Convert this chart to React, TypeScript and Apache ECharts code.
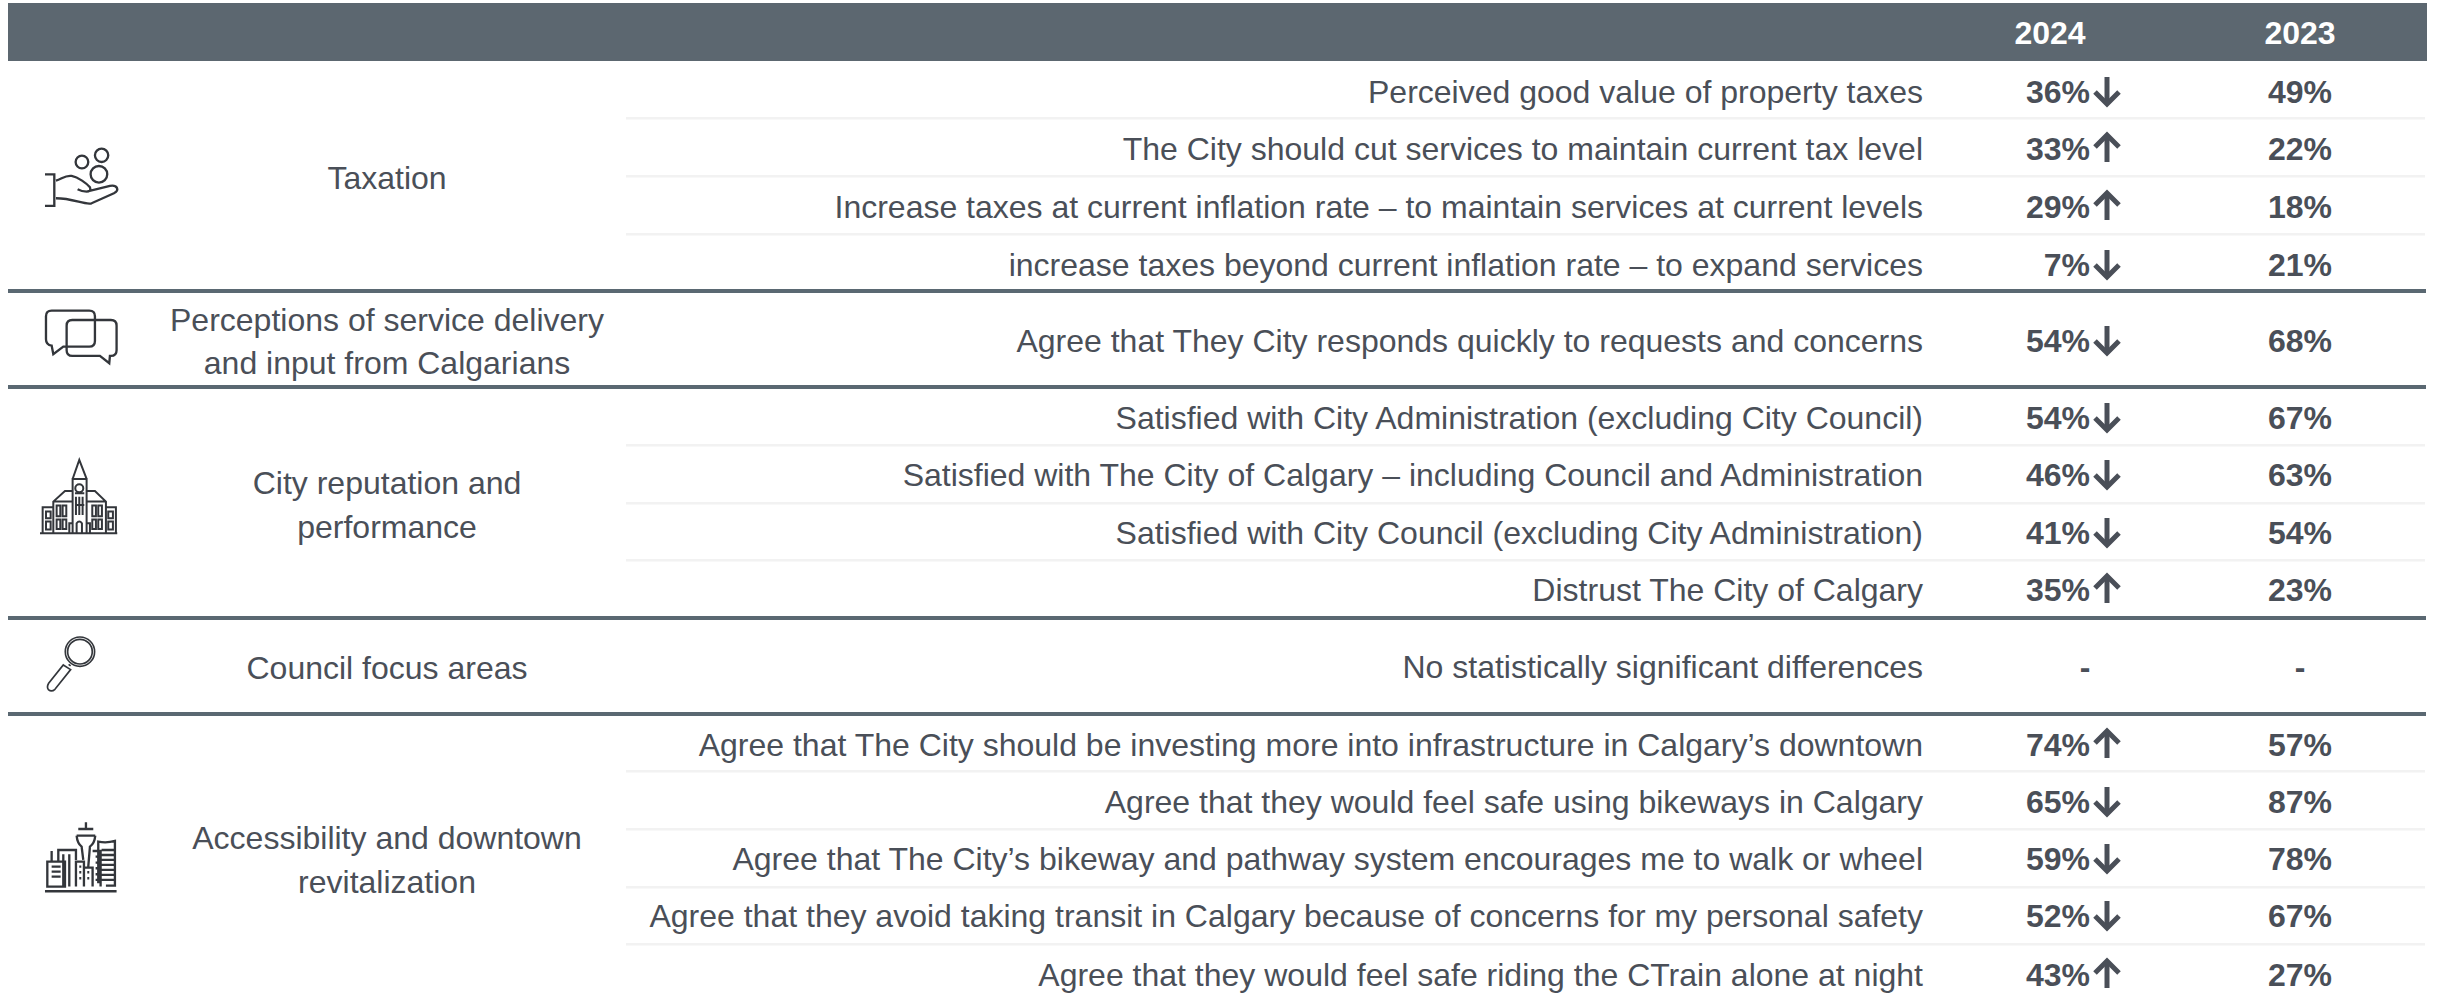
import React, { useEffect, useRef } from "react";
import * as echarts from "echarts";

const headers = ["2024", "2023"];
const groups = [
  ["Taxation"],
  ["Perceptions of service delivery", "and input from Calgarians"],
  ["City reputation and", "performance"],
  ["Council focus areas"],
  ["Accessibility and downtown", "revitalization"],
];
const rowLabels = [
  "Perceived good value of property taxes",
  "The City should cut services to maintain current tax level",
  "Increase taxes at current inflation rate – to maintain services at current levels",
  "increase taxes beyond current inflation rate – to expand services",
  "Agree that They City responds quickly to requests and concerns",
  "Satisfied with City Administration (excluding City Council)",
  "Satisfied with The City of Calgary – including Council and Administration",
  "Satisfied with City Council (excluding City Administration)",
  "Distrust The City of Calgary",
  "No statistically significant differences",
  "Agree that The City should be investing more into infrastructure in Calgary’s downtown",
  "Agree that they would feel safe using bikeways in Calgary",
  "Agree that The City’s bikeway and pathway system encourages me to walk or wheel",
  "Agree that they avoid taking transit in Calgary because of concerns for my personal safety",
  "Agree that they would feel safe riding the CTrain alone at night",
];
const values2024 = ["36%", "33%", "29%", "7%", "54%", "54%", "46%", "41%", "35%", "-", "74%", "65%", "59%", "52%", "43%"];
const values2023 = ["49%", "22%", "18%", "21%", "68%", "67%", "63%", "54%", "23%", "-", "57%", "87%", "78%", "67%", "27%"];
const changes = ["down", "up", "up", "down", "down", "down", "down", "down", "up", "", "up", "down", "down", "down", "up"];

// layout (page pixels)
const rowY = [92, 149, 207, 265, 341, 418, 475, 533, 590, 667, 745, 802, 859, 916, 975];
const thickRules = [291, 387, 618, 714];
const lightRules = [118, 176, 234, 445, 503, 560, 771, 829, 887, 944];
const groupLines = [[178], [320, 363], [483, 527], [668], [838, 882]];
const TEXT = "#4a4f58";
const FONT = '"Liberation Sans", Arial, sans-serif';

const c = (x: number, y: number, r: number) => `M${x - r} ${y}a${r} ${r} 0 1 0 ${2 * r} 0a${r} ${r} 0 1 0 ${-2 * r} 0Z`;
const b = (x: number, y: number, w: number, h: number) => `M${x} ${y}h${w}v${h}h${-w}Z`;

const iconHand =
  c(156, 66, 19) + c(215, 46, 20) + c(207, 103, 25) +
  "M45 103H73V198H45M78 122C95 118 105 105 125 108C145 112 170 130 180 142C184 152 178 155 170 155C160 155 150 152 143 148" +
  "M170 155L240 138C262 134 270 150 252 160L185 190C165 196 130 175 78 175";
const iconChat =
  "M65 32H178Q195 32 195 49V123Q195 140 178 140H100L70 163L65 137Q48 135 48 118V49Q48 32 65 32Z" +
  "M127 60H243Q260 60 260 77V151Q260 168 243 168H240L238 190L210 168H127Q110 168 110 151V77Q110 60 127 60Z";
const iconBuilding =
  "M38 157H70V235H38ZM228 157H258V235H228Z" +
  "M70 235V140L105 108H128M170 108H195L228 140V235M70 140H128M170 140H228" +
  "M128 235V72H170V235M128 72L148 15L170 72M135 115H163" +
  c(148, 100, 12) + b(48, 170, 14, 20) + b(48, 200, 14, 24) + b(235, 170, 14, 20) + b(235, 200, 14, 24) +
  b(80, 152, 11, 32) + b(98, 152, 11, 32) + b(80, 194, 11, 28) + b(98, 194, 11, 28) +
  b(187, 152, 11, 32) + b(205, 152, 11, 32) + b(187, 194, 11, 28) + b(205, 194, 11, 28) +
  "M138 125V180M148 125V180M158 125V180M135 150H163M140 235V205Q148 195 156 205V235" +
  "M118 235V205H128M170 205H180V235M30 235H262";
const iconGlass =
  c(150, 65, 44) + c(150, 65, 37) +
  "M100 105L122 119L75 178Q65 187 56 180Q49 172 56 160ZM116 103L122 108";
const iconCity =
  "M145 42H190M168 22V42M140 62H196M140 62Q142 85 155 95L160 135M196 62Q194 85 180 95L175 155" +
  "M205 205V80Q230 85 255 78V212H228M215 105H255M215 120H255M215 135H255M215 150H255M215 165H255M215 180H255M215 195H255" +
  "M65 140V108M85 140V105H138V135M100 118V215M118 118V215M138 215V140H162V215M162 158H188V215M188 108H212V215" +
  "M52 140H105V215H52ZM65 155H92M65 170H92M65 185H92M45 229H260" +
  "M148 155h6M148 172h6M148 190h6M172 172h6M172 190h6M197 125h6M197 143h6M197 160h6M197 178h6M197 195h6";

const icons = [
  { name: "iconHand", d: iconHand, x: 30, y: 140, w: 7 },
  { name: "iconChat", d: iconChat, x: 30, y: 300, w: 7 },
  { name: "iconBuilding", d: iconBuilding, x: 30, y: 455, w: 6 },
  { name: "iconGlass", d: iconGlass, x: 30, y: 630, w: 5 },
  { name: "iconCity", d: iconCity, x: 30, y: 815, w: 7 },
];
icons.forEach((ic) => echarts.graphic.registerShape(ic.name, echarts.graphic.extendPath(ic.d, {}) as any));

const font = (size: number, weight = "normal") => ({ fontSize: size, fontWeight: weight, fontFamily: FONT });

export default function App() {
  const ref = useRef<HTMLDivElement>(null);
  useEffect(() => {
    document.body.style.margin = "0";
    const chart = echarts.init(ref.current!, undefined, { renderer: "svg" });
    const renderRow = (_: any, api: any) => {
      const i = api.value(0);
      const y = api.value(1);
      const p = (x: number, yy: number) => api.coord([x, yy]);
      const [lx, ly] = p(1923, y);
      const [vx, vy] = p(2090, y);
      const [ox, oy] = p(2300, y);
      const [ax, ay] = p(2107, y - 1);
      const children: any[] = [
        { type: "text", style: { text: rowLabels[i], x: lx, y: ly, align: "right", verticalAlign: "middle", fill: TEXT, ...font(32) } },
      ];
      if (values2024[i] === "-") {
        children.push({ type: "text", style: { text: "-", x: 2085, y: vy, align: "center", verticalAlign: "middle", fill: TEXT, ...font(32, "bold") } });
      } else {
        children.push({ type: "text", style: { text: values2024[i], x: vx, y: vy, align: "right", verticalAlign: "middle", fill: TEXT, ...font(32, "bold") } });
      }
      children.push({ type: "text", style: { text: values2023[i], x: ox, y: oy, align: "center", verticalAlign: "middle", fill: TEXT, ...font(32, "bold") } });
      if (changes[i]) {
        const s = changes[i] === "up" ? -1 : 1;
        const arrow = { stroke: TEXT, lineWidth: 5, fill: "none" };
        children.push({ type: "line", shape: { x1: ax, y1: ay - 14 * s, x2: ax, y2: ay + 12 * s }, style: arrow });
        children.push({
          type: "polyline",
          shape: { points: [[ax - 12, ay + 1 * s], [ax, ay + 13 * s], [ax + 12, ay + 1 * s]] },
          style: arrow,
        });
      }
      return { type: "group", children };
    };
    const graphic: any[] = [
      { type: "rect", shape: { x: 8, y: 3, width: 2419, height: 58 }, style: { fill: "#5c6770" }, z: 1 },
      ...headers.map((h, i) => ({
        type: "text", x: i === 0 ? 2050 : 2300, y: 33, z: 2,
        style: { text: h, align: "center", verticalAlign: "middle", fill: "#ffffff", ...font(32, "bold") },
      })),
      ...lightRules.map((y) => ({ type: "rect", z: 1, shape: { x: 626, y: y - 1, width: 1799, height: 2.5 }, style: { fill: "#f2f2f2" } })),
      ...thickRules.map((y) => ({ type: "rect", z: 1, shape: { x: 8, y: y - 2, width: 2418, height: 4 }, style: { fill: "#5a6872" } })),
      ...groups.flatMap((lines, g) =>
        lines.map((t, k) => ({
          type: "text", x: 387, y: groupLines[g][k], z: 2,
          style: { text: t, align: "center", verticalAlign: "middle", fill: TEXT, ...font(32) },
        })),
      ),
      ...icons.map((ic) => ({
        type: ic.name, x: ic.x, y: ic.y, scaleX: 1 / 3, scaleY: 1 / 3, z: 2,
        style: { fill: "none", stroke: "#33363b", lineWidth: ic.w },
      })),
    ];
    chart.setOption({
      animation: false,
      backgroundColor: "#ffffff",
      grid: { left: 0, top: 0, width: 2440, height: 998 },
      xAxis: { type: "value", min: 0, max: 2440, show: false },
      yAxis: { type: "value", min: 0, max: 998, inverse: true, show: false },
      graphic,
      series: [
        {
          type: "custom",
          coordinateSystem: "cartesian2d",
          silent: true,
          clip: false,
          renderItem: renderRow,
          data: rowLabels.map((_, i) => [i, rowY[i]]),
          encode: { x: 0, y: 1 },
        },
      ],
    });
    return () => chart.dispose();
  }, []);
  return <div ref={ref} style={{ position: "fixed", left: 0, top: 0, width: 2440, height: 998 }} />;
}
